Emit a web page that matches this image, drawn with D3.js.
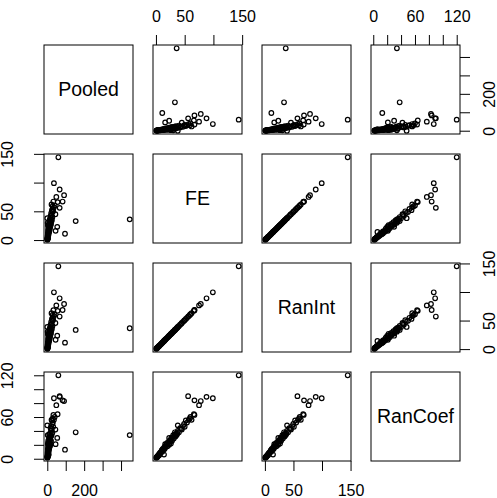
<!doctype html>
<html>
<head>
<script src="https://cdnjs.cloudflare.com/ajax/libs/d3/7.8.5/d3.min.js"></script>
<style>
body { margin: 0; background: #fff; }
svg { font-family: "Liberation Sans", Arial, sans-serif; }
</style>
</head>
<body>
<svg width="497" height="498"></svg>
<script>
var varNames = ["Pooled", "FE", "RanInt", "RanCoef"];

var pooled  = [0.5, 1, 1.5, 2, 2, 3, 1, 4, 3, 5, 2, 6, 4, 7, 3, 8, 5, 10, 6, 12, 4, 9, 14, 7, 11, 16, 5, 13, 18, 9,
               20, 12, 2, 15, 22, 10, 17, 25, 0, 14, 20, 28, 18, 24, 44, 21, 27, 32, 25, 30, 36, 29, 23, 40,
               33, 56, 83, 49, 91, 67, 36, 67, 60, 447, 154, 96, 54, 45, 1, 0.5, 3, 8];
var fe      = [0.6, 1.2, 2, 2.5, 3.5, 4, 5, 5.5, 6.5, 7, 8, 9, 10, 11, 12, 13, 14, 15, 16, 17, 18, 19, 20, 21, 22, 23, 24, 25, 26, 27,
               28, 29, 30, 31, 32, 33, 34, 35, 38, 37, 38, 40, 42, 44, 45, 47, 49, 50, 52, 54, 57, 59, 62, 60,
               67, 66, 67, 75, 78, 88, 99, 56, 144, 36, 33, 11, 23, 16, 1.8, 3, 26, 14];
var ranInt  = [0.7, 1.1, 2.1, 2.4, 3.6, 4.1, 5.1, 5.4, 6.6, 7.1, 8.2, 9.1, 10.2, 11.1, 12.2, 13.1, 14.3, 15.2, 16.2, 17.3, 18.4, 19.3, 20.2, 21.4, 22.3, 23.3, 24.5, 25.4, 26.3, 27.5,
               28.4, 29.5, 30.6, 31.4, 32.5, 33.6, 34.5, 35.5, 38.8, 37.6, 38.5, 40.6, 42.7, 44.6, 45.7, 47.8, 49.7, 50.8, 52.9, 54.8, 57.9, 59.9, 62.9, 61,
               68, 67, 68.5, 76.5, 79, 89, 99.5, 57, 145, 36.5, 33.5, 11.3, 23.5, 16.4, 1.9, 3.1, 26.5, 14.2];
var ranCoef = [1.5, 2, 3, 2.5, 4, 5, 6, 5, 8, 7, 9, 10, 12, 10, 14, 13, 16, 14, 18, 17, 20, 22, 18, 24, 21, 20, 26, 27, 25, 30,
               26, 31, 34, 29, 33, 35, 32, 36, 48, 36, 40, 38, 44, 43, 42, 47, 50, 46, 55, 52, 56, 58, 56, 60,
               63, 64, 84, 77, 83, 89, 87, 90, 120, 34, 38, 13, 30, 21, 2.5, 3.5, 22, 6];

var tickVals   = [[0, 100, 200, 300, 400], [0, 50, 100, 150], [0, 50, 100, 150], [0, 20, 40, 60, 80, 100, 120]];
var tickLabels = [[0, 200], [0, 50, 150], [0, 50, 150], [0, 60, 120]];

var cols = [pooled, fe, ranInt, ranCoef];
var left0 = 44, top0 = 45, size = 89, step = 109, n = cols.length;
var svg = d3.select("svg");

// R style: range padded by 4% on each side
function padded(v) {
  var e = d3.extent(v), d = (e[1] - e[0]) * 0.04;
  return [e[0] - d, e[1] + d];
}

var xs = cols.map((v, j) => d3.scaleLinear().domain(padded(v)).range([left0 + j * step, left0 + j * step + size]));
var ys = cols.map((v, i) => d3.scaleLinear().domain(padded(v)).range([top0 + i * step + size, top0 + i * step]));

for (var i = 0; i < n; i++) {
  for (var j = 0; j < n; j++) {
    var g = svg.append("g");
    if (i == j) {
      g.append("text")
        .attr("x", left0 + j * step + size / 2)
        .attr("y", top0 + i * step + size / 2)
        .attr("dy", "0.35em")
        .attr("text-anchor", "middle")
        .attr("font-size", 19.5)
        .text(varNames[i]);
    } else {
      var xi = j, yi = i;
      g.selectAll("circle").data(d3.range(pooled.length))
        .enter().append("circle")
        .attr("cx", k => xs[xi](cols[xi][k]))
        .attr("cy", k => ys[yi](cols[yi][k]))
        .attr("r", 2.3)
        .style("fill", "none")
        .style("stroke", "#000")
        .style("stroke-width", 1.2);
    }
    g.append("rect")
      .attr("x", left0 + j * step)
      .attr("y", top0 + i * step)
      .attr("width", size)
      .attr("height", size)
      .style("fill", "none")
      .style("stroke", "#000")
      .style("stroke-width", 1);
  }
}

function fmt(j) {
  return d => tickLabels[j].indexOf(d) >= 0 ? d : "";
}

function styleAxis(g) {
  g.select(".domain").remove();
  g.attr("font-size", 16).attr("font-family", null);
  g.selectAll(".tick line").attr("stroke", "#000");
  g.selectAll(".tick text").attr("fill", "#000");
}

// top / bottom axes alternate by column
for (var j = 0; j < n; j++) {
  if (j % 2 == 1) {
    svg.append("g")
      .attr("transform", "translate(0," + top0 + ")")
      .call(d3.axisTop(xs[j]).tickValues(tickVals[j]).tickFormat(fmt(j)).tickSize(10))
      .call(styleAxis)
      .selectAll(".tick text").attr("y", -23).attr("dy", 0);
  } else {
    svg.append("g")
      .attr("transform", "translate(0," + (top0 + (n - 1) * step + size) + ")")
      .call(d3.axisBottom(xs[j]).tickValues(tickVals[j]).tickFormat(fmt(j)).tickSize(10))
      .call(styleAxis)
      .selectAll(".tick text").attr("y", 35).attr("dy", 0);
  }
}

// left / right axes alternate by row
for (var i = 0; i < n; i++) {
  if (i % 2 == 1) {
    svg.append("g")
      .attr("transform", "translate(" + left0 + ",0)")
      .call(d3.axisLeft(ys[i]).tickValues(tickVals[i]).tickFormat(fmt(i)).tickSize(10))
      .call(styleAxis)
      .selectAll(".tick text")
      .attr("transform", "rotate(-90)")
      .attr("x", 0).attr("y", -31.5).attr("dy", 0)
      .attr("text-anchor", "middle");
  } else {
    svg.append("g")
      .attr("transform", "translate(" + (left0 + (n - 1) * step + size) + ",0)")
      .call(d3.axisRight(ys[i]).tickValues(tickVals[i]).tickFormat(fmt(i)).tickSize(10))
      .call(styleAxis)
      .selectAll(".tick text")
      .attr("transform", "rotate(-90)")
      .attr("x", 0).attr("y", 34.5).attr("dy", 0)
      .attr("text-anchor", "middle");
  }
}
</script>
</body>
</html>
